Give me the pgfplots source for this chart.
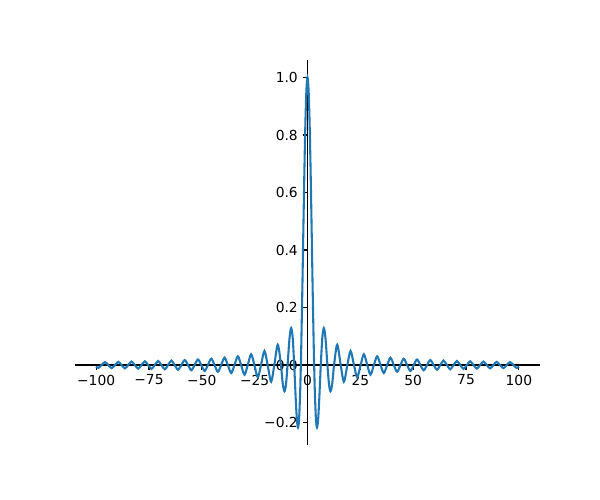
\documentclass[border=0pt]{standalone}
\usepackage{fontspec}
\setmainfont{DejaVu Sans}
\usepackage{pgfplots}
\pgfplotsset{compat=1.18}
\usepackage{pgfplotstable}
\definecolor{c0}{HTML}{1F77B4}
\pgfplotstableread{
x y
-100 -0.0051
-98.9501 -0.0101
-97.3894 0
-95.8082 0.0104
-94.2478 0
-92.6662 -0.0108
-91.1062 0
-89.5243 0.0112
-87.9646 0
-86.3822 -0.0116
-84.8230 0
-83.2402 0.0120
-81.6814 0
-80.0981 -0.0125
-78.5398 0
-76.9560 0.0130
-75.3982 0
-73.8139 -0.0135
-72.2566 0
-70.6717 0.0141
-69.1150 0
-67.5294 -0.0148
-65.9734 0
-64.3871 0.0155
-62.8319 0
-61.2447 -0.0163
-59.6903 0
-58.1023 0.0172
-56.5487 0
-54.9597 -0.0182
-53.4071 0
-51.8170 0.0193
-50.2655 0
-48.6741 -0.0205
-47.1239 0
-45.5311 0.0220
-43.9823 0
-42.3879 -0.0236
-40.8407 0
-39.2444 0.0255
-37.6991 0
-36.1006 -0.0277
-34.5575 0
-32.9564 0.0303
-31.4159 0
-29.8116 -0.0335
-28.2743 0
-26.6661 0.0375
-25.1327 0
-23.5195 -0.0425
-21.9911 0
-20.3713 0.0490
-18.8496 0
-17.2208 -0.0580
-15.7080 0
-14.0662 0.0709
-12.5664 0
-11.7 -0.0652
-10.9041 -0.0913
-10.2 -0.0686
-9.4248 0
-8.5 0.0939
-7.7253 0.1284
-7 0.0939
-6.2832 0
-6 -0.0466
-5.5 -0.1283
-5 -0.1918
-4.4934 -0.2172
-4 -0.1892
-3.5 -0.1002
-3.1416 0
-3 0.0470
-2.5 0.2394
-2 0.4546
-1.5 0.6650
-1 0.8415
-0.5 0.9589
0 1
0.5 0.9589
1 0.8415
1.5 0.6650
2 0.4546
2.5 0.2394
3 0.0470
3.1416 0
3.5 -0.1002
4 -0.1892
4.4934 -0.2172
5 -0.1918
5.5 -0.1283
6 -0.0466
6.2832 0
7 0.0939
7.7253 0.1284
8.5 0.0939
9.4248 0
10.2 -0.0686
10.9041 -0.0913
11.7 -0.0652
12.5664 0
14.0662 0.0709
15.7080 0
17.2208 -0.0580
18.8496 0
20.3713 0.0490
21.9911 0
23.5195 -0.0425
25.1327 0
26.6661 0.0375
28.2743 0
29.8116 -0.0335
31.4159 0
32.9564 0.0303
34.5575 0
36.1006 -0.0277
37.6991 0
39.2444 0.0255
40.8407 0
42.3879 -0.0236
43.9823 0
45.5311 0.0220
47.1239 0
48.6741 -0.0205
50.2655 0
51.8170 0.0193
53.4071 0
54.9597 -0.0182
56.5487 0
58.1023 0.0172
59.6903 0
61.2447 -0.0163
62.8319 0
64.3871 0.0155
65.9734 0
67.5294 -0.0148
69.1150 0
70.6717 0.0141
72.2566 0
73.8139 -0.0135
75.3982 0
76.9560 0.0130
78.5398 0
80.0981 -0.0125
81.6814 0
83.2402 0.0120
84.8230 0
86.3822 -0.0116
87.9646 0
89.5243 0.0112
91.1062 0
92.6662 -0.0108
94.2478 0
95.8082 0.0104
97.3894 0
98.9501 -0.0101
100 -0.0051
}\sincdata
\begin{document}
\begin{tikzpicture}[font=\fontsize{10}{12}\selectfont]
\useasboundingbox (0,0) rectangle (6in,5in);
\begin{axis}[
  at={(0.75in,0.55in)}, anchor=south west,
  scale only axis, width=4.65in, height=3.85in,
  xmin=-110, xmax=110, ymin=-0.2781, ymax=1.0609,
  axis lines=middle,
  axis line style={-, line width=0.8pt, black},
  every tick/.style={black, line width=0.8pt},
  major tick length=3.5pt,
  tick align=outside,
  hide obscured x ticks=false,
  hide obscured y ticks=false,
  xtick={-100,-75,-50,-25,0,25,50,75,100},
  xticklabels={−100,−75,−50,−25,0,25,50,75,100},
  ytick={-0.2,0,0.2,0.4,0.6,0.8,1.0},
  yticklabels={−0.2,0.0,0.2,0.4,0.6,0.8,1.0},
  tick label style={font=\fontsize{10}{12}\selectfont},
  clip=false,
]
\addplot[c0, line width=1.5pt, smooth, mark=none] table[x=x,y=y] {\sincdata};
\end{axis}
\end{tikzpicture}
\end{document}
